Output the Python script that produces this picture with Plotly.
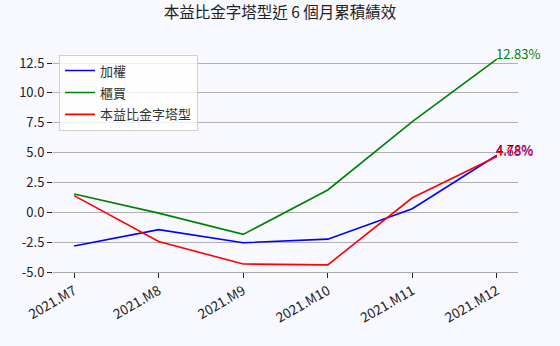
import plotly.graph_objects as go

months = ["2021.M7", "2021.M8", "2021.M9", "2021.M10", "2021.M11", "2021.M12"]
taiex = [-2.82, -1.45, -2.55, -2.25, 0.30, 4.78]
otc = [1.53, -0.07, -1.85, 1.87, 7.60, 12.83]
pyramid = [1.40, -2.45, -4.33, -4.40, 1.22, 4.68]

series = [("加權", taiex, "blue"), ("櫃買", otc, "green"), ("本益比金字塔型", pyramid, "red")]

FONT = "Noto Sans CJK TC"
BG = "#F8F8FF"

fig = go.Figure()
xs = list(range(len(months)))
for i, (name, vals, color) in enumerate(series):
    fig.add_trace(go.Scatter(x=xs, y=vals, mode="lines", name=name, legendgroup=f"g{i}",
                             line=dict(color=color, width=1.6)))
    fig.add_annotation(x=xs[-1], y=vals[-1], text=f"{vals[-1]:.2f}%", showarrow=False,
                       xanchor="left", yanchor="bottom", xshift=-3, yshift=-6,
                       font=dict(family=FONT, size=13, color=color))

fig.update_layout(
    width=560, height=346,
    margin=dict(l=53, r=42, t=49, b=74),
    paper_bgcolor=BG, plot_bgcolor=BG,
    font=dict(family=FONT, size=13, color="#222"),
    title=dict(text="本益比金字塔型近 6 個月累積績效", x=0.5, xanchor="center",
               y=0.98, yanchor="top", font=dict(family=FONT, size=15.5, color="#222")),
    showlegend=True,
    legend=dict(x=0.013, y=0.975, xanchor="left", yanchor="top",
                bgcolor="rgba(255,255,255,0.8)", bordercolor="#d0d0d0", borderwidth=1,
                font=dict(family=FONT, size=13, color="#333"), tracegroupgap=2),
)
fig.update_xaxes(range=[-0.25, 5.25], tickmode="array", tickvals=xs, ticktext=months,
                 tickangle=-30, showgrid=False, zeroline=False,
                 showline=True, linecolor="#aaaaaa", linewidth=1,
                 ticks="outside", ticklen=5, tickcolor="#222",
                 tickfont=dict(family=FONT, size=13.5, color="#222"))
fig.update_yaxes(range=[-5, 13.68], tickmode="array",
                 tickvals=[-5, -2.5, 0, 2.5, 5, 7.5, 10, 12.5],
                 ticktext=["-5.0", "-2.5", "0.0", "2.5", "5.0", "7.5", "10.0", "12.5"],
                 showgrid=True, gridcolor="#b0b0b0", gridwidth=1, zeroline=False,
                 showline=False, ticks="outside", ticklen=5, tickcolor="#222",
                 tickfont=dict(family=FONT, size=13, color="#222"))

fig.write_html("out.html")
